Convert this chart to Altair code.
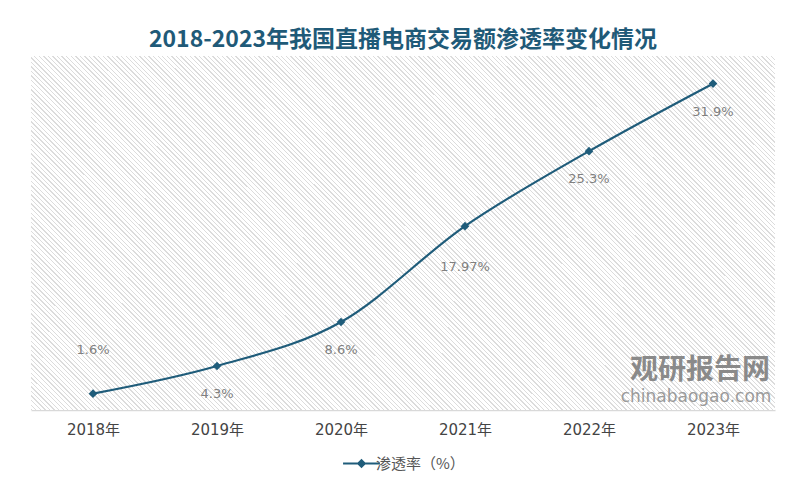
import altair as alt
import pandas as pd

years = ["2018年", "2019年", "2020年", "2021年", "2022年", "2023年"]
rates = [1.6, 4.3, 8.6, 17.97, 25.3, 31.9]
labels = ["1.6%", "4.3%", "8.6%", "17.97%", "25.3%", "31.9%"]
series_name = "渗透率（%）"

df = pd.DataFrame({"year": years, "rate": rates, "label": labels, "series": series_name})

LINE = "#1f5c7a"
FONT = "Noto Sans CJK SC"
NUMFONT = "DejaVu Sans, Noto Sans CJK SC"

# hatched background built as a striped linear gradient
n_periods = 240
stops = []
for i in range(n_periods):
    a = i / n_periods
    b = (i + 0.3) / n_periods
    c = (i + 1) / n_periods
    stops.append(alt.GradientStop(offset=a, color="#dcdcdc"))
    stops.append(alt.GradientStop(offset=b, color="#dcdcdc"))
    stops.append(alt.GradientStop(offset=b, color="#ffffff"))
    stops.append(alt.GradientStop(offset=c, color="#ffffff"))
hatch = alt.LinearGradient(gradient="linear", x1=0, y1=1, x2=1.203, y2=0.427, stops=stops)

base = alt.Chart(df)
xenc = alt.X("year:N", sort=years,
             scale=alt.Scale(type="point", padding=0.5),
             axis=alt.Axis(title=None, labelAngle=0, ticks=False, grid=False,
                           domainColor="#d9d9d9", domainWidth=1.5,
                           labelFontSize=15, labelColor="#444444", labelFont=NUMFONT,
                           labelPadding=12))
yenc = alt.Y("rate:Q", scale=alt.Scale(domain=[0, 34.6], nice=False, zero=True), axis=None)

bg = alt.Chart(alt.Data(values=[{}])).mark_rect(fill=hatch, strokeWidth=0).encode(
    x=alt.value(0), x2=alt.value("width"), y=alt.value(0), y2=alt.value("height")
)

color = alt.Color("series:N", scale=alt.Scale(range=[LINE]),
                  legend=alt.Legend(orient="none", legendX=320, legendY=397, direction="horizontal",
                                    title=None,
                                    symbolType="M-2,0L2,0M0,-0.36L0.36,0L0,0.36L-0.36,0Z",
                                    symbolSize=340, labelFontSize=15, labelColor="#555555",
                                    labelFont=FONT, labelOffset=4,
                                    symbolFillColor=LINE, symbolStrokeColor=LINE,
                                    symbolStrokeWidth=2, symbolOpacity=1))

line = base.mark_line(interpolate="monotone", strokeWidth=2.2).encode(x=xenc, y=yenc, color=color)
pts = base.mark_point(shape="diamond", filled=True, size=75, opacity=1).encode(x=xenc, y=yenc, color=color)

lab_style = dict(fontSize=13, color="#808080", font="DejaVu Sans")
lab_up = base.transform_filter(alt.datum.year == "2018年").mark_text(dy=-44, **lab_style).encode(
    x=xenc, y=yenc, text="label:N")
lab_mid = base.transform_filter(alt.datum.year == "2021年").mark_text(dy=41, **lab_style).encode(
    x=xenc, y=yenc, text="label:N")
lab_down = base.transform_filter(
    (alt.datum.year != "2018年") & (alt.datum.year != "2021年")
).mark_text(dy=28, **lab_style).encode(x=xenc, y=yenc, text="label:N")

wm1 = alt.Chart(alt.Data(values=[{"t": "观研报告网"}])).mark_text(
    fontSize=28, fontWeight="bold", color="#8a8a8a", font=FONT
).encode(x=alt.value(669), y=alt.value(315), text="t:N")
wm2 = alt.Chart(alt.Data(values=[{"t": "chinabaogao.com"}])).mark_text(
    fontSize=17, color="#9a9a9a", font="DejaVu Sans"
).encode(x=alt.value(665), y=alt.value(341), text="t:N")

chart = alt.layer(bg, wm1, wm2, line, pts, lab_up, lab_mid, lab_down).properties(
    width=744, height=354,
    title=alt.TitleParams("2018-2023年我国直播电商交易额渗透率变化情况", fontSize=23,
                          fontWeight="bold", color="#1f5a78", font=FONT,
                          anchor="middle", offset=4),
    padding={"left": 23, "right": 17, "top": 21, "bottom": 5},
    background="white",
).configure_view(stroke=None)

chart.save("out.html", embed_options={"renderer": "svg", "actions": False})
